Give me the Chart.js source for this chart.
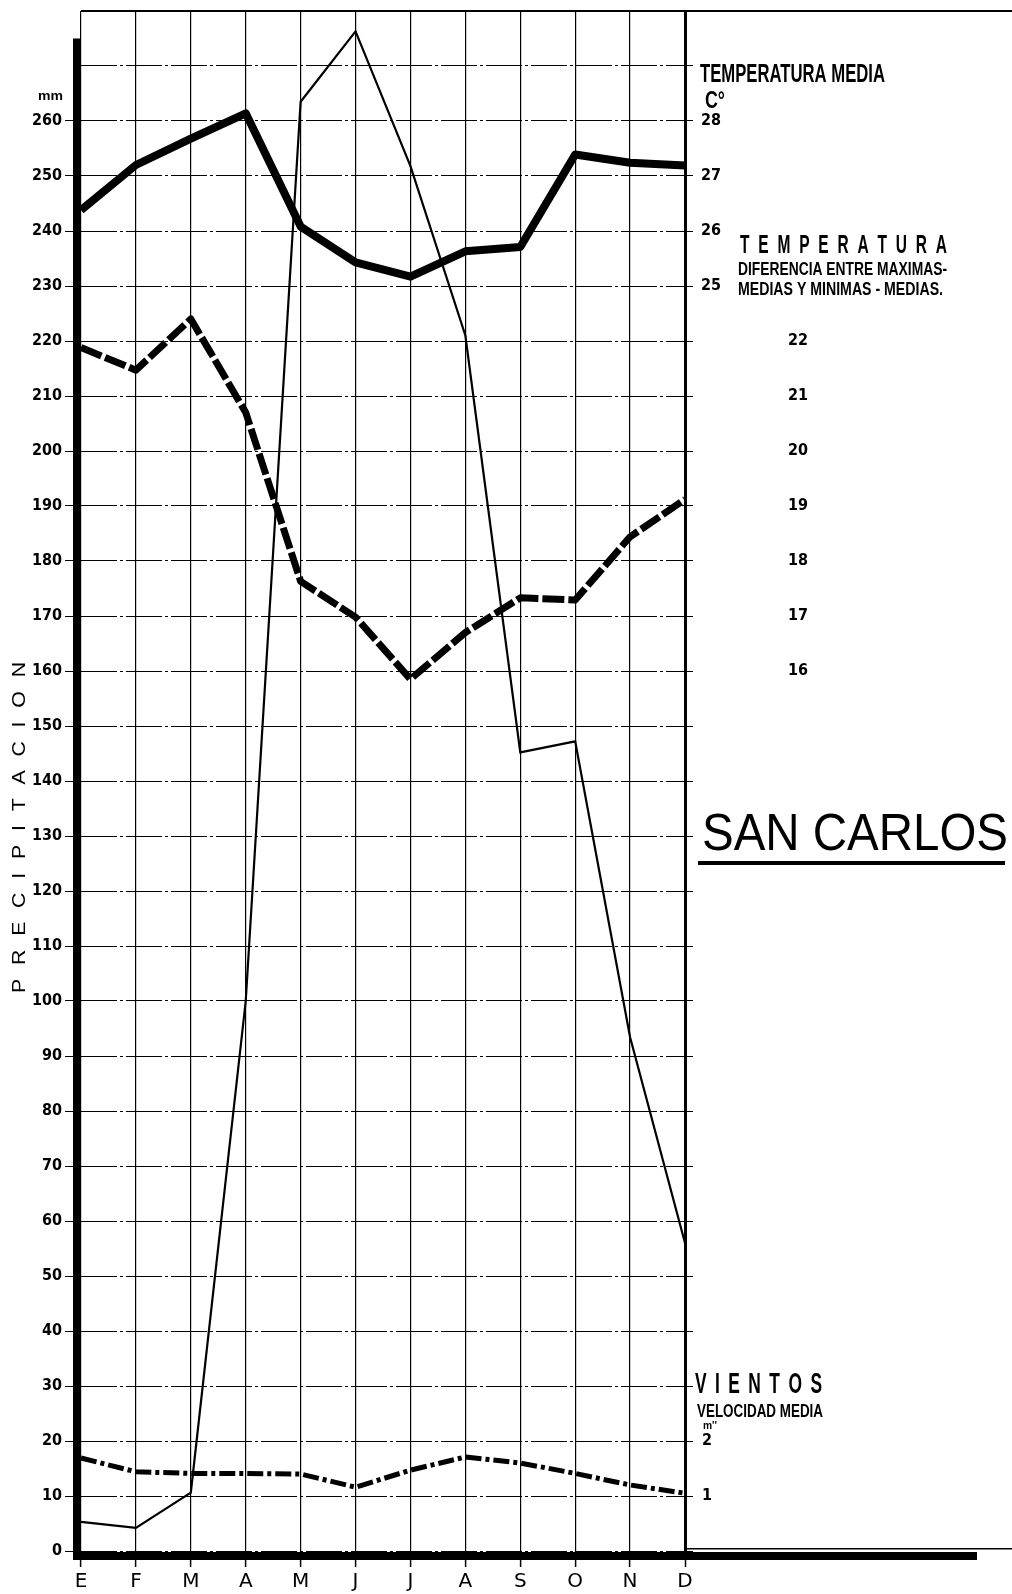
<!DOCTYPE html>
<html><head><meta charset="utf-8">
<script src="https://cdn.jsdelivr.net/npm/chart.js@4.4.1/dist/chart.umd.min.js"></script>
<style>html,body{margin:0;padding:0;background:#fff}#wrap{width:1012px;height:1594px;position:relative}</style>
</head><body><div id="wrap"><canvas id="c" width="1012" height="1594"></canvas></div>
<script>
// ---- data ----
const months = ['E','F','M','A','M','J','J','A','S','O','N','D'];
const precipitacion = [5.3, 4.2, 10.6, 100, 263.5, 276.3, 251.8, 221, 145.2, 147.2, 93.4, 56];          // mm
const temperaturaMedia = [26.38, 27.2, 27.68, 28.14, 26.08, 25.43, 25.17, 25.63, 25.71, 27.39, 27.24, 27.19]; // °C
const temperaturaDiferencia = [21.88, 21.47, 22.4, 20.7, 17.63, 16.98, 15.85, 16.7, 17.33, 17.29, 18.44, 19.12]; // °C
const vientos = [1.69, 1.44, 1.41, 1.41, 1.40, 1.16, 1.47, 1.71, 1.60, 1.41, 1.20, 1.05]; // m/s
const precipMax = 280, precipLabelMax = 260, precipStep = 10;
const tempMediaTicks = [25, 26, 27, 28];
const tempDifTicks = [16, 17, 18, 19, 20, 21, 22];
const vientoTicks = [1, 2];

const NARROW = "'Liberation Sans Narrow','DejaVu Sans Condensed','Roboto Condensed','Liberation Sans',sans-serif";
const W = 1012;

function fitText(ctx, text, x, y, w, font, align) {
  ctx.save();
  ctx.font = font;
  ctx.textBaseline = 'alphabetic';
  ctx.textAlign = 'left';
  const m = ctx.measureText(text).width;
  const sx = w / m;
  ctx.translate(align === 'right' ? x - w : x, y);
  ctx.scale(sx, 1);
  ctx.fillText(text, 0, 0);
  ctx.restore();
}
function spacedText(ctx, text, x0, x1, y, font, sx) {
  ctx.save();
  ctx.font = font;
  ctx.textBaseline = 'alphabetic';
  ctx.textAlign = 'left';
  const chars = [...text];
  const ws = chars.map(c => ctx.measureText(c).width * sx);
  const total = ws.reduce((a, b) => a + b, 0);
  const gap = (x1 - x0 - total) / (chars.length - 1);
  let x = x0;
  chars.forEach((c, i) => {
    ctx.save();
    ctx.translate(x, y);
    ctx.scale(sx, 1);
    ctx.fillText(c, 0, 0);
    ctx.restore();
    x += ws[i] + gap;
  });
  ctx.restore();
}
function noPad(s) { s.paddingTop = 0; s.paddingBottom = 0; }

const decor = {
  id: 'decor',
  afterDraw(chart) {
    const ctx = chart.ctx, ca = chart.chartArea, ys = chart.scales.y;
    ctx.save();
    ctx.fillStyle = '#000';
    ctx.strokeStyle = '#000';
    // top border line
    ctx.fillRect(ca.left, ca.top - 1, W - ca.left, 2);
    // thick left bar
    const barTop = ys.getPixelForValue(275);
    ctx.fillRect(ca.left - 8, barTop, 7, ca.bottom + 9 - barTop);
    // thick bottom bar and thin line
    ctx.fillRect(ca.left - 4, ca.bottom + 1, W - 35 - (ca.left - 4), 8);
    ctx.fillRect(ca.right, ca.bottom - 3, W - ca.right, 1.5);

    // left axis unit + title
    fitText(ctx, 'mm', 63, 100, 25, "bold 13px 'Liberation Sans'", 'right');
    ctx.save();
    ctx.translate(25, 993);
    ctx.rotate(-Math.PI / 2);
    spacedText(ctx, 'PRECIPITACION', 0, 331, 0, "19px 'Liberation Sans'", 1.12);
    ctx.restore();

    // right side titles
    fitText(ctx, 'TEMPERATURA MEDIA', 700, 82, 185, "bold 26px 'Liberation Sans'");
    fitText(ctx, 'C°', 705, 108, 20, "bold 24px 'Liberation Sans'");
    spacedText(ctx, 'TEMPERATURA', 740, 947, 253, "bold 25px 'Liberation Sans'", 0.62);
    fitText(ctx, 'DIFERENCIA ENTRE MAXIMAS-', 738, 275, 209, "bold 18px 'Liberation Sans'");
    fitText(ctx, 'MEDIAS Y MINIMAS - MEDIAS.', 738, 295, 205, "bold 18px 'Liberation Sans'");
    spacedText(ctx, 'VIENTOS', 695, 822, 1393, "bold 29px 'Liberation Sans'", 0.6);
    fitText(ctx, 'VELOCIDAD MEDIA', 697, 1417, 126, "bold 19px 'Liberation Sans'");
    fitText(ctx, "m''", 703, 1429, 14, "bold 10px 'Liberation Sans'");

    // station name
    fitText(ctx, 'SAN CARLOS', 702, 850, 306, "52px 'Liberation Sans'");
    ctx.fillRect(698, 861, 307, 4);
    ctx.restore();
  }
};

new Chart(document.getElementById('c'), {
  type: 'line',
  data: {
    labels: months,
    datasets: [
      { label: 'Precipitación', data: precipitacion, yAxisID: 'y', borderColor: '#000', borderWidth: 2.2,
        pointRadius: 0, tension: 0, fill: false, order: 0 },
      { label: 'Temperatura media', data: temperaturaMedia, yAxisID: 'yt', borderColor: '#000', borderWidth: 8,
        pointRadius: 0, tension: 0, fill: false, borderJoinStyle: 'round', order: 1 },
      { label: 'Diferencia', data: temperaturaDiferencia, yAxisID: 'yd', borderColor: '#000', borderWidth: 7,
        borderDash: [22, 4], pointRadius: 0, tension: 0, fill: false, borderJoinStyle: 'round', order: 2 },
      { label: 'Vientos', data: vientos, yAxisID: 'yw', borderColor: '#000', borderWidth: 5,
        borderDash: [16, 4, 4, 4], pointRadius: 0, tension: 0, fill: false, order: 3 }
    ]
  },
  options: {
    responsive: false,
    animation: false,
    devicePixelRatio: 1,
    layout: { padding: { left: 0, right: W - 685, top: 11, bottom: 0 } },
    plugins: { legend: { display: false }, tooltip: { enabled: false }, title: { display: false } },
    scales: {
      x: {
        type: 'category', offset: false,
        grid: { color: '#000', lineWidth: c => (c.index === 11 ? 3 : 1.2), tickLength: 16, tickColor: '#000', tickWidth: 1.5 },
        border: { display: false },
        ticks: { color: '#000', font: { family: "'DejaVu Sans'", size: 20 }, padding: 3, maxRotation: 0, autoSkip: false },
        afterFit: s => { s.height = 43; s.paddingLeft = 0; s.paddingRight = 0; }
      },
      y: {
        position: 'left', min: 0, max: precipMax,
        ticks: { stepSize: precipStep, color: '#000', padding: 3, autoSkip: false,
          font: { family: NARROW, size: 16, weight: 'bold' },
          callback: v => (v <= precipLabelMax ? String(v) : '') },
        grid: { color: '#000', lineWidth: 1, tickLength: 16,
          tickColor: c => (c.tick && c.tick.value > precipLabelMax ? 'rgba(0,0,0,0)' : '#000') },
        border: { display: false, dash: [36, 3, 3, 3] },
        afterFit: s => { s.width = 81; noPad(s); }
      },
      yt: {
        position: 'right', min: 2, max: 30,
        afterBuildTicks: s => { s.ticks = tempMediaTicks.map(v => ({ value: v })); },
        ticks: { color: '#000', mirror: true, crossAlign: 'near', padding: 36, font: { family: NARROW, size: 16, weight: 'bold' } },
        grid: { display: false, drawTicks: false },
        border: { display: false },
        afterFit: s => { s.width = 0; noPad(s); }
      },
      yd: {
        position: 'right', min: 0, max: 28,
        afterBuildTicks: s => { s.ticks = tempDifTicks.map(v => ({ value: v })); },
        ticks: { color: '#000', mirror: true, crossAlign: 'near', padding: 123, font: { family: NARROW, size: 16, weight: 'bold' } },
        grid: { display: false, drawTicks: false },
        border: { display: false },
        afterFit: s => { s.width = 0; noPad(s); }
      },
      yw: {
        position: 'right', min: 0, max: 28,
        ticks: { stepSize: 1, color: '#000', mirror: true, crossAlign: 'near', padding: 27, autoSkip: false,
          font: { family: NARROW, size: 16, weight: 'bold' },
          callback: v => (vientoTicks.includes(v) ? String(v) : '') },
        grid: { drawOnChartArea: false, tickLength: 8, color: '#000', lineWidth: 1 },
        border: { display: false },
        afterFit: s => { s.width = 0; noPad(s); }
      }
    }
  },
  plugins: [decor]
});
</script>
</body></html>
